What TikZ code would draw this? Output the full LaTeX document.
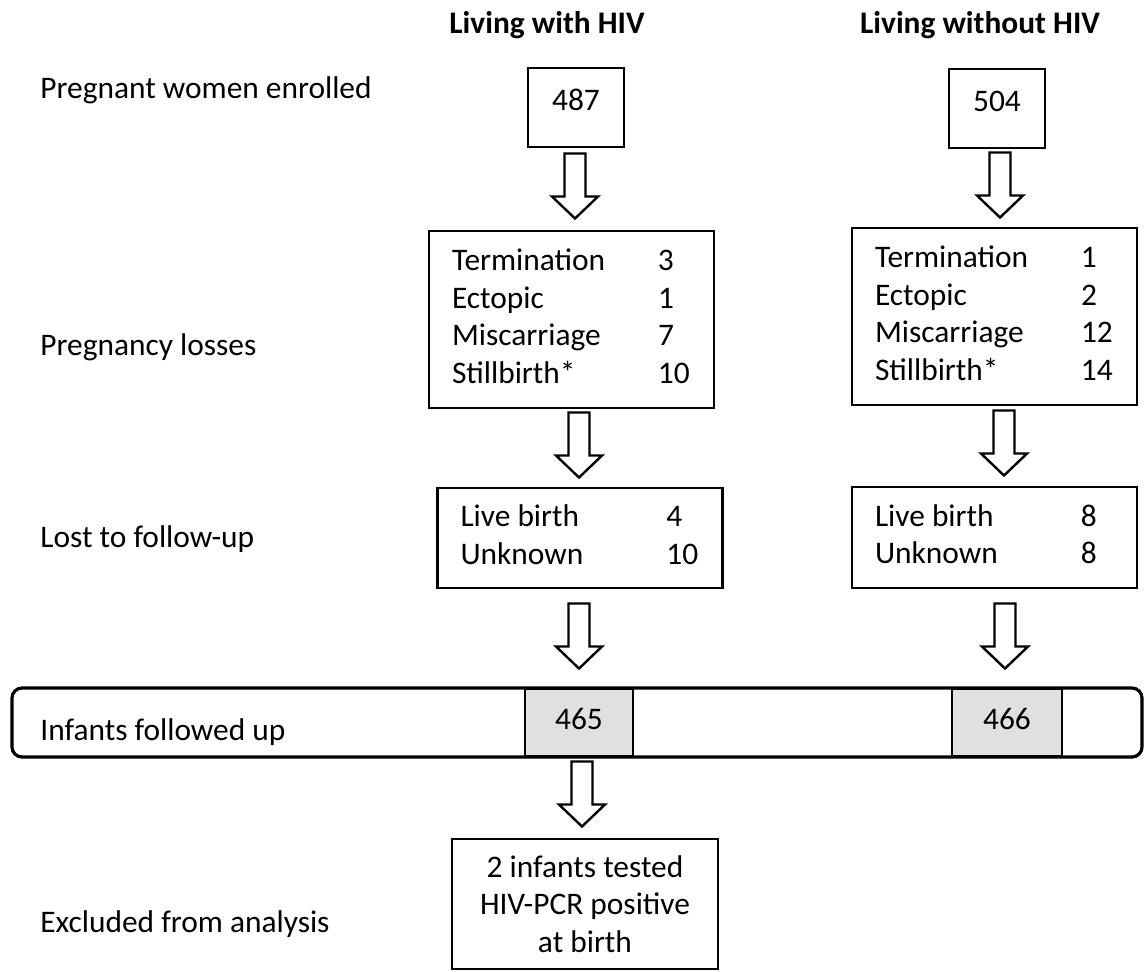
\documentclass[tikz,border=0pt]{standalone}
\usepackage{fontspec}
\setmainfont{Carlito}
\usepackage{tikz}
\usetikzlibrary{calc}
\definecolor{cellgray}{RGB}{224,224,224}
\newcommand{\flowarrow}[3][0pt]{%
  \draw[flowarr] let \p1=([xshift=#1]#2.south), \p2=(#3.north),
    \p3=($(\p1)!0.5!(\p2)$) in
    (\x1-5.25pt,\y3+17.75pt) -- (\x1+5.25pt,\y3+17.75pt) -- (\x1+5.25pt,\y3-3.75pt)
    -- (\x1+11.5pt,\y3-3.75pt) -- (\x1,\y3-14.75pt) -- (\x1-11.5pt,\y3-3.75pt)
    -- (\x1-5.25pt,\y3-3.75pt) -- cycle;}

\begin{document}
\begin{tikzpicture}[x=0.5pt,y=-0.5pt,
    every node/.style={font=\fontsize{15.7}{18.85}\selectfont},
    stagebox/.style={draw,line width=1.3pt,fill=white,inner sep=0pt},
    countbox/.style={stagebox,minimum width=48pt,minimum height=39.5pt,
                     text height=10pt,text depth=7.5pt},
    listbox/.style={stagebox,minimum width=142.5pt},
    rowlabel/.style={anchor=base west,inner sep=0pt},
    colhead/.style={anchor=base,inner sep=0pt,
                    font=\fontsize{15.7}{18.85}\selectfont\bfseries},
    flowarr/.style={draw,line width=1.2pt,fill=white,line join=miter},
    cell/.style={draw,line width=0.8pt,fill=cellgray,inner sep=0pt,
                 minimum height=33pt,text height=10pt,text depth=3.5pt}]
    \useasboundingbox (0,0) rectangle (1144,971);

    \node[colhead] (hivpos) at (547,33) {Living with HIV};
    \node[colhead] (hivneg) at (980,33) {Living without HIV};

    \node[rowlabel] (lblenr) at (40,98) {Pregnant women enrolled};
    \node[rowlabel] (lblloss) at (40,355) {Pregnancy losses};
    \node[rowlabel] (lbllost) at (40,547) {Lost to follow-up};
    \node[rowlabel] (lblexcl) at (40,932) {Excluded from analysis};

    \node[countbox] (enrA) at (576,107.5) {487};
    \node[countbox] (enrB) at (997,108.5) {504};

    \node[listbox,minimum height=88.5pt] (lossA) at (571.5,319.5) {%
      \begin{tabular}{@{}p{103pt}@{}p{16.5pt}@{}}
        Termination & 3\\ Ectopic & 1\\ Miscarriage & 7\\ Stillbirth* & 10
      \end{tabular}};
    \node[listbox,minimum height=88.5pt] (lossB) at (994.5,316.5) {%
      \begin{tabular}{@{}p{103pt}@{}p{16.5pt}@{}}
        Termination & 1\\ Ectopic & 2\\ Miscarriage & 12\\ Stillbirth* & 14
      \end{tabular}};
    \node[listbox,minimum height=50pt] (lostA) at (580,538) {%
      \begin{tabular}{@{}p{103pt}@{}p{16.5pt}@{}}
        Live birth & 4\\ Unknown & 10
      \end{tabular}};
    \node[listbox,minimum height=50.5pt] (lostB) at (994.5,537.5) {%
      \begin{tabular}{@{}p{103pt}@{}p{16.5pt}@{}}
        Live birth & 8\\ Unknown & 8
      \end{tabular}};

    \node[draw,line width=1.6pt,rounded corners=5pt,fill=white,inner sep=0pt,
          minimum width=565pt,minimum height=34.5pt] (fup) at (577,722.5) {};
    \node[rowlabel] (lblinf) at (40,740) {Infants followed up};
    \node[cell,minimum width=54pt] (fupA) at (579,722.5) {465};
    \node[cell,minimum width=55pt] (fupB) at (1007,722.5) {466};

    \node[stagebox,minimum width=133pt,minimum height=65pt,align=center] (excl)
      at (585,904) {2 infants tested\\HIV-PCR positive\\at birth};

    \flowarrow[-0.5pt]{enrA}{lossA}
    \flowarrow[1.5pt]{enrB}{lossB}
    \flowarrow[3.75pt]{lossA}{lostA}
    \flowarrow[4.75pt]{lossB}{lostB}
    \flowarrow[-0.5pt]{lostA}{fupA}
    \flowarrow[5.25pt]{lostB}{fupB}
    \flowarrow[1.5pt]{fupA}{excl}
\end{tikzpicture}
\end{document}
